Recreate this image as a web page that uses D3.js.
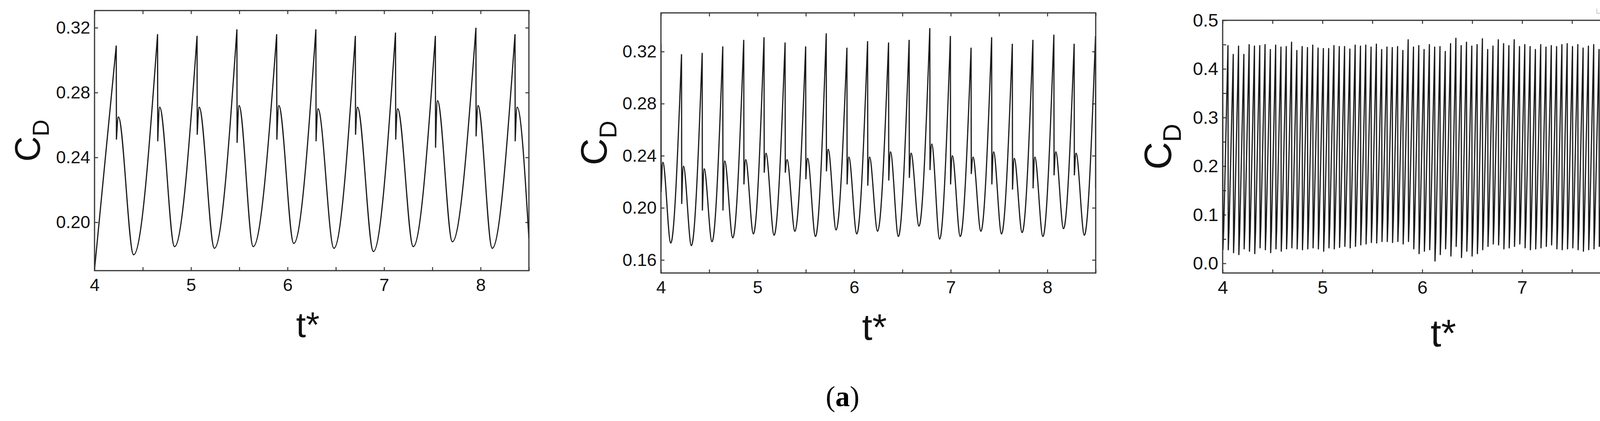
<!DOCTYPE html>
<html><head><meta charset="utf-8">
<script src="https://cdn.jsdelivr.net/npm/d3@7"></script>
<style>body{margin:0;background:#fff}svg{display:block}</style>
</head><body>
<svg id="c" width="4303" height="1078"></svg>
<script>
// ---------- Panel 1 data ----------
const p1Start = [4.0, 0.171];
const p1End = [8.5, 0.190];
const p1PeakT = [4.225, 4.653, 5.062, 5.475, 5.887, 6.293, 6.702, 7.118, 7.531, 7.951, 8.356];
const p1PeakV = [0.309, 0.316, 0.315, 0.319, 0.316, 0.319, 0.315, 0.317, 0.315, 0.320, 0.316];
const p1DropV = [0.251, 0.250, 0.254, 0.249, 0.251, 0.250, 0.254, 0.251, 0.246, 0.253, 0.250];
const p1HumpV = [0.265, 0.271, 0.271, 0.272, 0.272, 0.270, 0.271, 0.270, 0.275, 0.272, 0.271];
const p1MinT = [4.405, 4.829, 5.242, 5.644, 6.064, 6.480, 6.889, 7.302, 7.707, 8.120];
const p1MinV = [0.180, 0.185, 0.184, 0.185, 0.187, 0.184, 0.182, 0.185, 0.188, 0.184];
const p1YTicks = [0.20, 0.24, 0.28, 0.32];

// ---------- Panel 2 data ----------
const p2PeakT = [4.000, 4.213, 4.427, 4.640, 4.857, 5.067, 5.285, 5.498, 5.711, 5.925, 6.139, 6.356, 6.569, 6.783, 6.996, 7.210, 7.423, 7.637, 7.850, 8.067, 8.277, 8.498];
const p2PeakV = [0.326, 0.318, 0.319, 0.324, 0.329, 0.331, 0.327, 0.324, 0.334, 0.323, 0.328, 0.327, 0.329, 0.338, 0.332, 0.323, 0.331, 0.326, 0.329, 0.333, 0.326, 0.332];
const p2DropV = [0.212, 0.203, 0.198, 0.198, 0.218, 0.227, 0.227, 0.222, 0.228, 0.218, 0.217, 0.221, 0.223, 0.229, 0.218, 0.226, 0.218, 0.214, 0.215, 0.225, 0.225, 0.215];
const p2HumpV = [0.235, 0.232, 0.230, 0.236, 0.237, 0.242, 0.237, 0.238, 0.245, 0.239, 0.239, 0.243, 0.242, 0.249, 0.240, 0.239, 0.243, 0.238, 0.239, 0.243, 0.242];
const p2MinV = [0.173, 0.171, 0.174, 0.177, 0.180, 0.179, 0.182, 0.178, 0.183, 0.180, 0.182, 0.178, 0.186, 0.176, 0.178, 0.182, 0.180, 0.181, 0.178, 0.184, 0.179];
const p2YTicks = [0.16, 0.20, 0.24, 0.28, 0.32];

// ---------- Panel 3 data ----------
const p3FirstPeak = 4.0, p3Period = 0.0531;
const p3PeakV = [
 0.447,0.448,0.430,0.447,0.430,0.450,0.447,0.448,0.450,0.440,
 0.449,0.445,0.446,0.455,0.438,0.446,0.444,0.449,0.443,0.442,
 0.442,0.448,0.446,0.446,0.441,0.449,0.447,0.449,0.445,0.451,
 0.440,0.445,0.444,0.446,0.438,0.460,0.445,0.448,0.440,0.450,
 0.445,0.446,0.436,0.452,0.463,0.448,0.455,0.447,0.450,0.462,
 0.440,0.447,0.460,0.452,0.448,0.460,0.446,0.450,0.446,0.440,
 0.450,0.445,0.448,0.446,0.450,0.452,0.446,0.450,0.443,0.447,
 0.450,0.440,0.451,0.447,0.446,0.452,0.440,0.450,0.455,0.452,
 0.455,0.455,0.454,0.455,0.455];
const p3TroughV = [
 0.028,0.028,0.022,0.018,0.030,0.025,0.020,0.032,0.028,0.022,
 0.030,0.025,0.030,0.032,0.030,0.028,0.030,0.032,0.030,0.025,
 0.032,0.030,0.033,0.035,0.032,0.035,0.038,0.040,0.043,0.042,
 0.045,0.045,0.043,0.045,0.040,0.045,0.030,0.020,0.025,0.028,
 0.005,0.018,0.030,0.015,0.035,0.012,0.025,0.015,0.020,0.028,
 0.035,0.040,0.038,0.030,0.032,0.035,0.040,0.032,0.028,0.030,
 0.032,0.035,0.038,0.030,0.028,0.030,0.032,0.028,0.025,0.028,
 0.030,0.035,0.030,0.028,0.022,0.030,0.020,0.025,0.030,0.028,
 0.030,0.028,0.030,0.030,0.030];
const p3YTicks = [0.0, 0.1, 0.2, 0.3, 0.4, 0.5];
const xTicks = [4, 5, 6, 7, 8];
const xMinor = [4.5, 5.5, 6.5, 7.5, 8.5];

const svg = d3.select('#c');
const FONT = "'Liberation Sans', Arial, sans-serif";
const STROKE = '#1a1a1a';

function panel(o) {
  const g = svg.append('g');
  const x = d3.scaleLinear().domain([4, 8.5]).range([o.x0, o.x1]);
  const y = d3.scaleLinear().domain(o.yDom).range([o.y1, o.y0]);
  const id = 'clip' + o.id;
  svg.append('clipPath').attr('id', id).append('rect')
    .attr('x', o.x0).attr('y', o.y0).attr('width', o.x1 - o.x0).attr('height', o.y1 - o.y0);
  const tl = 9;
  const style = (sel, labels, fs) => {
    sel.select('.domain').remove();
    sel.selectAll('.tick line').attr('stroke', '#333').attr('stroke-width', 2.5);
    sel.selectAll('.tick text').attr('font-family', FONT).attr('font-size', fs).attr('fill', '#111');
    if (!labels) sel.selectAll('.tick text').remove();
  };
  const allX = xTicks.concat(xMinor);
  const yAll = o.yTicks.concat(o.yMinor || []);
  g.append('g').attr('transform', `translate(0,${o.y1})`)
    .call(d3.axisBottom(x).tickValues(xTicks).tickSize(-tl).tickPadding(20).tickFormat(d3.format('d')))
    .call(s => style(s, true, o.fs));
  g.append('g').attr('transform', `translate(0,${o.y1})`)
    .call(d3.axisBottom(x).tickValues(xMinor).tickSize(-tl).tickFormat(''))
    .call(s => style(s, false));
  g.append('g').attr('transform', `translate(0,${o.y0})`)
    .call(d3.axisTop(x).tickValues(allX).tickSize(-tl).tickFormat(''))
    .call(s => style(s, false));
  g.append('g').attr('transform', `translate(${o.x0},0)`)
    .call(d3.axisLeft(y).tickValues(o.yTicks).tickSize(-tl).tickPadding(11).tickFormat(d3.format(o.fmt)))
    .call(s => style(s, true, o.fs));
  g.append('g').attr('transform', `translate(${o.x0},0)`)
    .call(d3.axisLeft(y).tickValues(o.yMinor || []).tickSize(-tl).tickFormat(''))
    .call(s => style(s, false));
  g.append('g').attr('transform', `translate(${o.x1},0)`)
    .call(d3.axisRight(y).tickValues(yAll).tickSize(-tl).tickFormat(''))
    .call(s => style(s, false));

  // curve
  const lin = d3.line().x(d => x(d[0])).y(d => y(d[1]));
  const mono = d3.line().x(d => x(d[0])).y(d => y(d[1])).curve(d3.curveMonotoneX);
  const paths = o.pieces(lin, mono);
  g.append('path').attr('clip-path', `url(#${id})`).attr('d', paths.join(''))
    .attr('fill', 'none').attr('stroke', STROKE).attr('stroke-width', o.sw).attr('stroke-linejoin', 'round');

  g.append('rect').attr('x', o.x0).attr('y', o.y0).attr('width', o.x1 - o.x0).attr('height', o.y1 - o.y0)
    .attr('fill', 'none').attr('stroke', '#333').attr('stroke-width', 3);

  // labels
  const yl = g.append('text').attr('transform', `translate(${o.yLabX},${(o.y0 + o.y1) / 2}) rotate(-90)`)
    .attr('text-anchor', 'middle').attr('font-family', FONT).attr('fill', '#111');
  yl.append('tspan').attr('font-size', o.labFs).text('C');
  yl.append('tspan').attr('font-size', o.labFs * 0.66).attr('dy', o.labFs * 0.26).text('D');
  g.append('text').attr('x', (o.x0 + o.x1) / 2 - 10).attr('y', o.xLabY).attr('text-anchor', 'middle')
    .attr('font-family', FONT).attr('font-size', o.labFs).attr('fill', '#111').text('t*');
}

// pieces for peaked waveform with drop/hump
function peakedPieces(peakT, peakV, dropV, humpV, minT, minV, hOff, start, end) {
  return (lin, mono) => {
    const out = [];
    if (start) out.push(mono([start, [minT.length ? start[0] : start[0], start[1]], [peakT[0], peakV[0]]].slice(1)));
    for (let i = 0; i < peakT.length; i++) {
      const tp = peakT[i];
      out.push(lin([[tp, peakV[i]], [tp + 0.002, dropV[i]]]));
      if (humpV[i] === undefined) continue;
      const seg = [[tp + 0.002, dropV[i]], [tp + hOff, humpV[i]]];
      if (i < minT.length) {
        seg.push([minT[i], minV[i]]);
        if (i + 1 < peakT.length) seg.push([peakT[i + 1], peakV[i + 1]]);
      } else if (end) seg.push(end);
      out.push(mono(seg));
    }
    return out;
  };
}

// Panel 1
panel({
  id: 1, x0: 242, x1: 1354, y0: 27, y1: 693, yDom: [0.1702, 0.3306], yTicks: p1YTicks,
  fmt: '.2f', fs: 45, labFs: 90, sw: 3, yLabX: 102, xLabY: 863,
  pieces: peakedPieces(p1PeakT, p1PeakV, p1DropV, p1HumpV, p1MinT, p1MinV, 0.022, p1Start, p1End)
});

// Panel 2
const p2MinT = p2PeakT.slice(0, p2MinV.length).map((t, i) => (t + p2PeakT[i + 1]) / 2 - 0.005);
panel({
  id: 2, x0: 1692, x1: 2805, y0: 33, y1: 699, yDom: [0.150, 0.3497], yTicks: p2YTicks,
  fmt: '.2f', fs: 45, labFs: 95, sw: 3, yLabX: 1553, xLabY: 870,
  pieces: peakedPieces(p2PeakT, p2PeakV, p2DropV, p2HumpV, p2MinT, p2MinV, 0.02, null, null)
});

// Panel 3
panel({
  id: 3, x0: 3130, x1: 4280, y0: 52, y1: 699, yDom: [-0.0197, 0.5], yTicks: p3YTicks,
  yMinor: [0.05, 0.15, 0.25, 0.35, 0.45], fmt: '.1f', fs: 47, labFs: 98, sw: 3, yLabX: 2998, xLabY: 887,
  pieces: (lin) => {
    const pts = [];
    const n = Math.min(p3PeakV.length, p3TroughV.length);
    for (let i = 0; i < n; i++) {
      const tp = p3FirstPeak + i * p3Period;
      pts.push([tp, p3PeakV[i]]);
      pts.push([tp + 0.003, p3TroughV[i]]);
      pts.push([tp + 0.011, p3TroughV[i] + 0.045]);
    }
    return [lin(pts)];
  }
});

// small gray bracket top right
svg.append('path').attr('d', 'M4088,22 V34 H4215 V22').attr('fill', 'none').attr('stroke', '#c8c8c8').attr('stroke-width', 2);

// panel caption
const cap = svg.append('text').attr('x', 2157).attr('y', 1040).attr('text-anchor', 'middle')
  .attr('font-family', "'Liberation Serif', 'Times New Roman', serif").attr('font-size', 74).attr('fill', '#000');
cap.append('tspan').text('(');
cap.append('tspan').attr('font-weight', 'bold').text('a');
cap.append('tspan').text(')');
</script>
</body></html>
